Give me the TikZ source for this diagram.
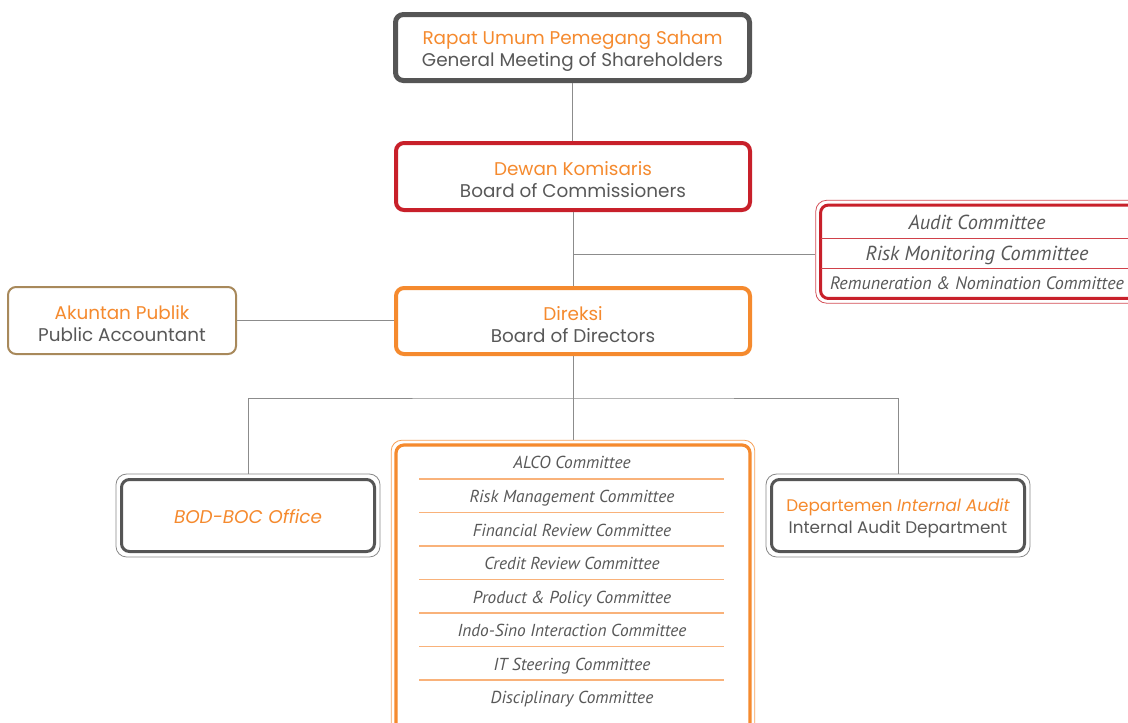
\documentclass[tikz,border=0pt]{standalone}
\usepackage{fontspec}
\setmainfont{Poppins}
\newfontfamily\comfont{PT Sans}
\usetikzlibrary{fit,positioning}
\definecolor{org}{HTML}{F58A2E}
\definecolor{orgl}{HTML}{F9B27A}
\definecolor{txt}{HTML}{585858}
\definecolor{dark}{HTML}{555555}
\definecolor{redb}{HTML}{C8202A}
\definecolor{tan}{HTML}{A8895B}
\definecolor{conn}{HTML}{8C8C8C}
\tikzset{
  box/.style={rounded corners=6pt, inner sep=0pt},
  lbl/.style={align=center, inner sep=0pt, font=\fontsize{13.8}{16.5}\selectfont, text=txt},
  outerline/.style={draw, line width=0.6pt, rounded corners=8pt, inner sep=3pt},
  conline/.style={draw=conn, line width=0.75pt},
  comtext/.style={font=\comfont\itshape\fontsize{13}{15}\selectfont, text=txt, inner sep=0pt, text height=10.5pt, text depth=1.1pt},
  rdiv/.style={draw=redb!85, line width=0.75pt},
  odiv/.style={draw=orgl, line width=0.9pt}
}
\begin{document}
\begin{tikzpicture}[x=0.75pt,y=-0.75pt]
\useasboundingbox (0,0) rectangle (1128,722);
\fill[white] (0,0) rectangle (1128,722);
% main boxes
\node[box, draw=dark, line width=3.75pt, minimum width=265.5pt, minimum height=49.5pt] (gms) at (572.5,47.5) {};
\node[lbl] (gmst) at ([yshift=-2.6pt]gms.center) {\textcolor{org}{Rapat Umum Pemegang Saham}\\General Meeting of Shareholders};
\node[box, draw=redb, line width=3pt, minimum width=265.5pt, minimum height=50.25pt] (boc) at (573,176.5) {};
\node[lbl] (boct) at ([yshift=-2.6pt]boc.center) {\textcolor{org}{Dewan Komisaris}\\Board of Commissioners};
\node[box, draw=org, line width=3pt, minimum width=265.5pt, minimum height=49.5pt] (dir) at (573,321) {};
\node[lbl] (dirt) at ([yshift=-2.6pt]dir.center) {\textcolor{org}{Direksi}\\Board of Directors};
\node[box, draw=tan, line width=1.5pt, minimum width=171pt, minimum height=50.25pt] (pa) at (122,320.5) {};
\node[lbl] (pat) at ([yshift=-2.6pt]pa.center) {\textcolor{org}{Akuntan Publik}\\Public Accountant};
% BOD-BOC office
\node[box, draw=dark, line width=2.25pt, minimum width=189.75pt, minimum height=54pt] (bod) at (248,515.5) {};
\node[lbl, text=org, font=\fontsize{13.8}{16.5}\selectfont\itshape] (bodt) at ([yshift=-0.6pt]bod.center) {BOD-BOC Office};
\node[outerline, draw=dark!70, fit=(bod)] (bodo) {};
% Internal audit
\node[box, draw=dark, line width=2.25pt, minimum width=189.75pt, minimum height=54pt] (ia) at (898,515.5) {};
\node[lbl, font=\fontsize{12.6}{16.5}\selectfont] (iat) at ([yshift=-2.4pt]ia.center) {\textcolor{org}{Departemen \itshape Internal Audit}\\Internal Audit Department};
\node[outerline, draw=dark!70, fit=(ia)] (iao) {};
% right committee box
\node[box, draw=redb, line width=2.25pt, minimum width=239.6pt, minimum height=70.1pt] (rc) at (980.25,251.75) {};
\node[outerline, draw=redb!80, fit=(rc), inner sep=2.4pt] (rco) {};
\node[comtext, font=\comfont\itshape\fontsize{15.2}{17}\selectfont] (ac) at (977,223) {Audit Committee};
\node[comtext, font=\comfont\itshape\fontsize{15.2}{17}\selectfont] (rmc) at (977,254) {Risk Monitoring Committee};
\node[comtext, font=\comfont\itshape\fontsize{13.5}{17}\selectfont] (rnc) at (977,283) {Remuneration \& Nomination Committee};
\coordinate (rd1) at (820.5,238);
\coordinate (rd2) at (820.5,268);
\draw[rdiv] (rd1) -- (rd1 -| rc.east);
\draw[rdiv] (rd2) -- (rd2 -| rc.east);
% director committee box
\node[box, draw=org, line width=2.4pt, minimum width=265.5pt, minimum height=217.5pt] (dc) at (573,590) {};
\node[outerline, draw=org!80, fit=(dc), inner sep=2.4pt] (dco) {};
\node[comtext] (c1) at (572,462) {ALCO Committee};
\node[comtext] (c2) at (572,496) {Risk Management Committee};
\node[comtext] (c3) at (572,530) {Financial Review Committee};
\node[comtext] (c4) at (572,563) {Credit Review Committee};
\node[comtext] (c5) at (572,597) {Product \& Policy Committee};
\node[comtext] (c6) at (572,630) {Indo-Sino Interaction Committee};
\node[comtext] (c7) at (572,664) {IT Steering Committee};
\node[comtext] (c8) at (572,697) {Disciplinary Committee};
\foreach \y in {479,512.5,546,579.5,613,646.5,680}
  \draw[odiv] (419,\y) -- (724,\y);
% connectors
\draw[conline] (gms.south) -- (gms.south |- boc.north);
\draw[conline] (boc.south) -- (boc.south |- dir.north);
\coordinate (j1) at (573,254);
\draw[conline] (j1) -- (j1 -| rco.west);
\draw[conline] (pa.east) -- (pa.east -| dir.west);
\draw[conline] (dir.south) -- (dir.south |- dco.north);
\coordinate (jb) at (573,398);
\draw[conline] (bodo.north) |- (jb) -| (iao.north);
\end{tikzpicture}
\end{document}
